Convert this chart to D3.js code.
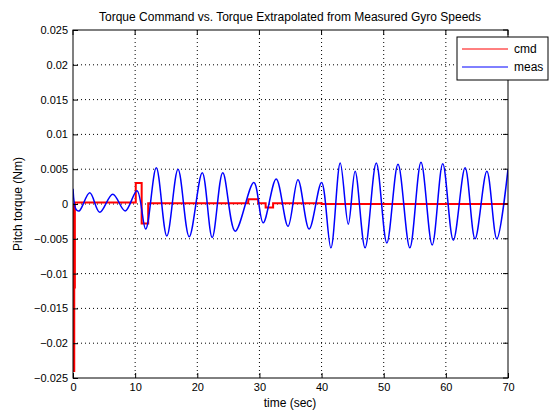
<!DOCTYPE html>
<html><head><meta charset="utf-8">
<script src="https://cdn.jsdelivr.net/npm/d3@7"></script>
<style>
body{margin:0;background:#fff;}
svg{font-family:"Liberation Sans",Arial,sans-serif;}
</style></head>
<body><svg id="chart" width="560" height="420"></svg>
<script>
// meas: extrema (time sec, torque Nm)
const measT = [0,0.5,1,2.7,4.3,6.4,8.4,10.3,11.7,13.4,15.1,16.9,18.7,20.8,22.4,24.1,26.1,29.1,30.6,32.7,34.6,36.2,38.0,40.0,41.5,43.0,44.3,45.4,47.0,48.8,50.5,52.3,54.2,56.0,57.8,59.5,61.2,63.1,64.7,66.6,68.2,70];
const measV = [0.0022,-0.0008,-0.0010,0.0016,-0.0012,0.0014,-0.0010,0.0019,-0.0036,0.0052,-0.0046,0.0050,-0.0047,0.0045,-0.0048,0.0045,-0.0039,0.0031,-0.0027,0.0036,-0.0032,0.0035,-0.0036,0.0031,-0.0063,0.0059,-0.0029,0.0047,-0.0063,0.0059,-0.0056,0.0057,-0.0063,0.0060,-0.0059,0.0058,-0.0052,0.0052,-0.0050,0.0047,-0.0050,0.0050];
// cmd: step values (start time, torque)
const cmdT = [0,0.1,0.2,0.3,10.1,11.05,12.1,28.2,29.8,31.0,32.2,40,70];
const cmdV = [0,-0.024,-0.012,0.0002,0.003,-0.0028,0.0001,0.0007,0.0001,-0.0005,0.0001,0.0,0.0];
const xTicks = [0,10,20,30,40,50,60,70];
const yTicks = d3.range(-0.025,0.02501,0.005);

const svg = d3.select("#chart");
const m = {l:73, r:508, t:30, b:378};
const x = d3.scaleLinear().domain([0,70]).range([m.l,m.r]);
const y = d3.scaleLinear().domain([-0.025,0.025]).range([m.b,m.t]);

// grid
const g = svg.append("g");
g.selectAll("line.gx").data(xTicks.slice(1,-1)).join("line")
  .attr("x1",d=>x(d)).attr("x2",d=>x(d)).attr("y1",m.t).attr("y2",m.b)
  .attr("stroke","#000").attr("stroke-width",1).attr("stroke-dasharray","1,3");
g.selectAll("line.gy").data(yTicks.slice(1,-1)).join("line")
  .attr("y1",d=>y(d)).attr("y2",d=>y(d)).attr("x1",m.l).attr("x2",m.r)
  .attr("stroke","#000").attr("stroke-width",1).attr("stroke-dasharray","1,3");

const clip = svg.append("clipPath").attr("id","c").append("rect")
  .attr("x",m.l).attr("y",m.t).attr("width",m.r-m.l).attr("height",m.b-m.t);

const measData = measT.map((t,i)=>[t,measV[i]]);
const cmdData = cmdT.map((t,i)=>[t,cmdV[i]]);
svg.append("path").datum(cmdData).attr("clip-path","url(#c)")
  .attr("d",d3.line().x(d=>x(d[0])).y(d=>y(d[1])).curve(d3.curveStepAfter))
  .attr("fill","none").attr("stroke","#ff0000").attr("stroke-width",2);
svg.append("path").datum(measData).attr("clip-path","url(#c)")
  .attr("d",d3.line().x(d=>x(d[0])).y(d=>y(d[1])).curve(d3.curveCatmullRom))
  .attr("fill","none").attr("stroke","#0000ff").attr("stroke-width",1.5);

// axes box
svg.append("rect").attr("x",m.l).attr("y",m.t).attr("width",m.r-m.l).attr("height",m.b-m.t)
  .attr("fill","none").attr("stroke","#000");
const fmt = d=>Math.abs(d)<1e-9?"0":d3.format("")(+d.toFixed(3));
const ax = svg.append("g").attr("transform",`translate(0,${m.b})`)
  .call(d3.axisBottom(x).tickValues(xTicks).tickSizeInner(-5).tickSizeOuter(0).tickPadding(5));
const ay = svg.append("g").attr("transform",`translate(${m.l},0)`)
  .call(d3.axisLeft(y).tickValues(yTicks).tickFormat(fmt).tickSizeInner(-5).tickSizeOuter(0).tickPadding(5));
[ax,ay].forEach(a=>{a.select(".domain").remove();a.selectAll("text").attr("font-size",11).attr("fill","#000");});
// top/right ticks
svg.selectAll("line.tt").data(xTicks).join("line").attr("x1",d=>x(d)).attr("x2",d=>x(d))
  .attr("y1",m.t).attr("y2",m.t+5).attr("stroke","#000");
svg.selectAll("line.rt").data(yTicks).join("line").attr("y1",d=>y(d)).attr("y2",d=>y(d))
  .attr("x1",m.r).attr("x2",m.r-5).attr("stroke","#000");

svg.append("text").attr("x",290).attr("y",21).attr("text-anchor","middle").attr("font-size",12)
  .text("Torque Command vs. Torque Extrapolated from Measured Gyro Speeds");
svg.append("text").attr("x",290).attr("y",407).attr("text-anchor","middle").attr("font-size",12)
  .text("time (sec)");
svg.append("text").attr("transform","translate(22,204) rotate(-90)").attr("text-anchor","middle").attr("font-size",12)
  .text("Pitch torque (Nm)");

// legend
const lg = svg.append("g");
lg.append("rect").attr("x",457).attr("y",37).attr("width",91).attr("height",43)
  .attr("fill","#fff").attr("stroke","#000");
const leg = [["cmd","#ff0000"],["meas","#0000ff"]];
leg.forEach((d,i)=>{
  lg.append("line").attr("x1",462).attr("x2",508).attr("y1",49+i*18).attr("y2",49+i*18)
    .attr("stroke",d[1]).attr("stroke-width",1);
  lg.append("text").attr("x",514).attr("y",53+i*18).attr("font-size",12).text(d[0]);
});
</script></body></html>
